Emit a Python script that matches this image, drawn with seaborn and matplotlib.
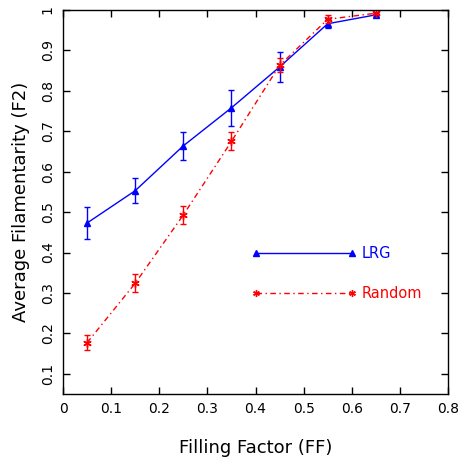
import numpy as np
import pandas as pd
import matplotlib
matplotlib.use("Agg")
import matplotlib.pyplot as plt
from matplotlib.ticker import FuncFormatter, MultipleLocator
import seaborn as sns

# data
filling_factor = [0.05, 0.15, 0.25, 0.35, 0.45, 0.55, 0.65]
lrg_f2 = [0.473, 0.553, 0.664, 0.758, 0.859, 0.966, 0.988]
lrg_err = [0.040, 0.031, 0.034, 0.045, 0.038, 0.011, 0.004]
random_f2 = [0.177, 0.324, 0.493, 0.675, 0.863, 0.977, 0.992]
random_err = [0.018, 0.022, 0.022, 0.022, 0.017, 0.010, 0.003]

BLUE = "#0000ff"
RED = "#ff0000"

sns.set_theme(style="ticks")
plt.rcParams["font.family"] = ["DejaVu Sans"]
plt.rcParams.update({
    "xtick.direction": "in",
    "ytick.direction": "in",
    "xtick.top": True,
    "ytick.right": True,
    "xtick.major.size": 5,
    "ytick.major.size": 5,
    "axes.linewidth": 1.0,
    "axes.edgecolor": "black",
    "text.color": "black",
    "axes.labelcolor": "black",
    "xtick.color": "black",
    "ytick.color": "black",
})

df = pd.DataFrame({
    "ff": filling_factor * 2,
    "f2": lrg_f2 + random_f2,
    "err": lrg_err + random_err,
    "sample": ["LRG"] * 7 + ["Random"] * 7,
})

fig = plt.figure(figsize=(4.58, 4.58), dpi=100)
ax = fig.add_axes([0.1376, 0.1397, 0.8406, 0.8385])

styles = {
    "LRG": dict(color=BLUE, marker="^", ms=5, ls="-"),
    "Random": dict(color=RED, marker=(6, 2, 0), ms=6,
                   ls=(0, (4, 2.5, 1, 2.5))),
}

for name, grp in df.groupby("sample"):
    st = styles[name]
    ax.errorbar(grp["ff"], grp["f2"], yerr=grp["err"], fmt="none",
                ecolor=st["color"], elinewidth=1.0, capsize=2.2, capthick=1.0)
    sns.lineplot(data=grp, x="ff", y="f2", ax=ax, label=name,
                 errorbar=None, color=st["color"], marker=st["marker"],
                 markersize=st["ms"], markeredgecolor=st["color"],
                 markeredgewidth=1.0, linewidth=1.0, linestyle=st["ls"])

ax.set_xlim(0, 0.8)
ax.set_ylim(0.05, 1.0)
ax.xaxis.set_major_locator(MultipleLocator(0.1))
ax.yaxis.set_major_locator(MultipleLocator(0.1))
fmt = FuncFormatter(lambda v, p: f"{v:g}")
ax.xaxis.set_major_formatter(fmt)
ax.yaxis.set_major_formatter(fmt)
ax.tick_params(axis="both", labelsize=10, pad=6, width=1.0, color="black")
for lab in ax.get_yticklabels():
    lab.set_rotation(90)
    lab.set_va("center")

ax.set_xlabel("Filling Factor (FF)", fontsize=13, labelpad=16)
ax.set_ylabel("Average Filamentarity (F2)", fontsize=13, labelpad=8)

leg = ax.legend(loc="upper left", bbox_to_anchor=(0.475, 0.401),
                frameon=False, numpoints=2, handlelength=7.15,
                handletextpad=0.38, labelspacing=1.75, fontsize=10.5,
                labelcolor="linecolor", borderaxespad=0, markerscale=0.8)

for s in ax.spines.values():
    s.set_visible(True)

plt.savefig("out.png", dpi=100)
